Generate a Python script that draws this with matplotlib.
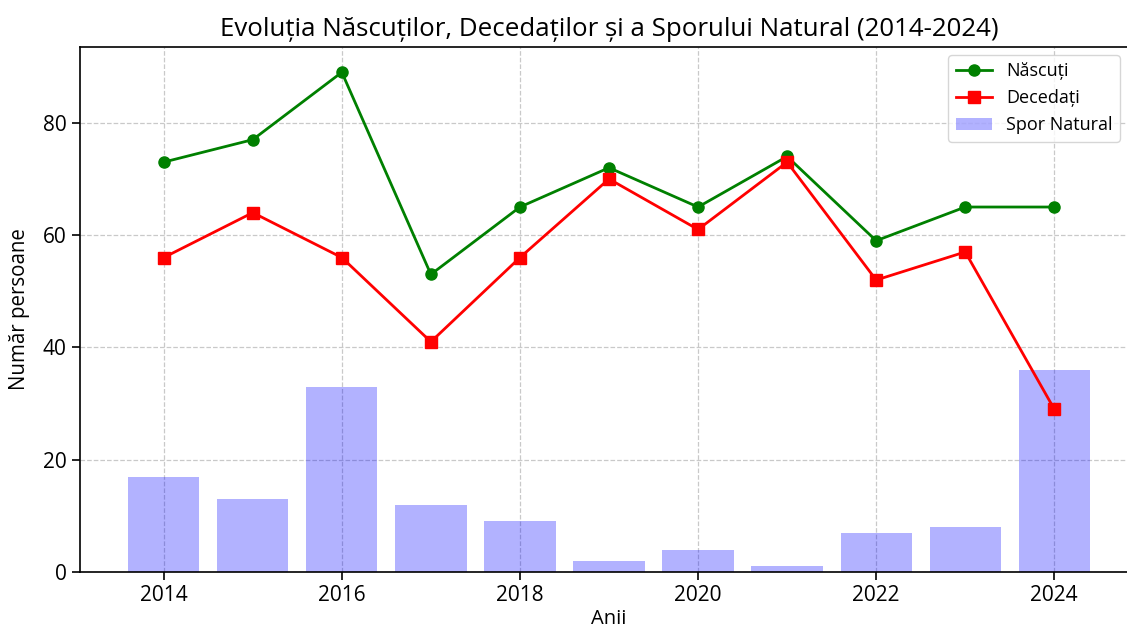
import matplotlib
matplotlib.use("Agg")
import matplotlib.pyplot as plt

years = [2014, 2015, 2016, 2017, 2018, 2019, 2020, 2021, 2022, 2023, 2024]
nascuti = [73, 77, 89, 53, 65, 72, 65, 74, 59, 65, 65]
decedati = [56, 64, 56, 41, 56, 70, 61, 73, 52, 57, 29]
spor = [17, 13, 33, 12, 9, 2, 4, 1, 7, 8, 36]

plt.rcParams['font.family'] = ['Open Sans', 'DejaVu Sans']

W, H = 1127, 628
fig = plt.figure(figsize=(W / 100, H / 100), dpi=100)
left, right, top, bottom = 80, 1138, 47, 572
ax = fig.add_axes([left / W, 1 - bottom / H, (right - left) / W, (bottom - top) / H])

ax.plot(years, nascuti, color='green', marker='o', markersize=8, linewidth=2, label='Născuți', zorder=3)
ax.plot(years, decedati, color='red', marker='s', markersize=8, linewidth=2, label='Decedați', zorder=3)
ax.bar(years, spor, width=0.8, color='blue', alpha=0.3, label='Spor Natural', zorder=1)

ax.set_xlim(2013.06, 2024.94)
ax.set_ylim(0, 93.5)
ax.set_xticks([2014, 2016, 2018, 2020, 2022, 2024])
ax.set_yticks([0, 20, 40, 60, 80])
ax.tick_params(labelsize=15, length=6, width=1.2)
for s in ax.spines.values():
    s.set_linewidth(1.2)
ax.grid(True, linestyle='--', color='#c4c4c4', linewidth=0.9, alpha=0.9)
ax.set_axisbelow(True)

ax.set_title('Evoluția Născuților, Decedaților și a Sporului Natural (2014-2024)', fontsize=18.6, pad=8)
ax.set_xlabel('Anii', fontsize=14.5, labelpad=2)
ax.set_ylabel('Număr persoane', fontsize=14.8, labelpad=9)

ax.legend(fontsize=13, loc='upper right', bbox_to_anchor=(1129 / W, 1 - 46 / H),
          bbox_transform=fig.transFigure, framealpha=0.8)

fig.savefig('out.png', dpi=100)
